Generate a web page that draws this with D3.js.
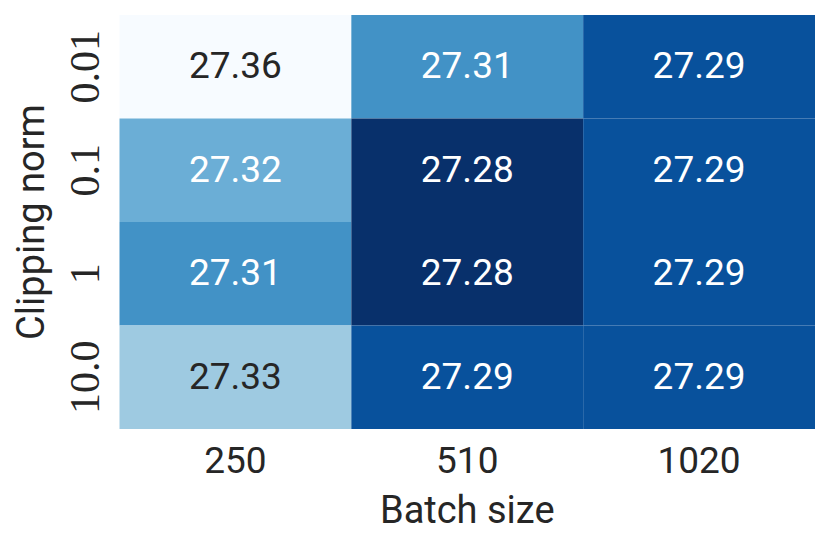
<!DOCTYPE html>
<html lang="en">
<head>
    <meta charset="UTF-8">
    <title>Heatmap</title>
    <script src="https://cdn.jsdelivr.net/npm/d3@7"></script>
    <style>
        body { margin: 0; background: #fff; }
        svg text { font-family: Roboto, "Liberation Sans", sans-serif; fill: #262626; }
    </style>
</head>
<body>
<svg id="chart" width="830" height="549"></svg>
<script>
    var batchSizes = ["250", "510", "1020"];
    var clipNorms = ["0.01", "0.1", "1", "10.0"];
    // rows = clipping norm, columns = batch size
    var values = [
        [27.36, 27.31, 27.29],
        [27.32, 27.28, 27.29],
        [27.31, 27.28, 27.29],
        [27.33, 27.29, 27.29]
    ];
    var bluesStops = ["#f7fbff", "#deebf7", "#c6dbef", "#9ecae1", "#6baed6", "#4292c6", "#2171b5", "#08519c", "#08306b"];

    var mLeft = 119.5, mRight = 815, mTop = 15, mBottom = 429;
    var svg = d3.select("#chart");

    var x = d3.scaleBand().domain(batchSizes).range([mLeft, mRight]);
    var y = d3.scaleBand().domain(clipNorms).range([mTop, mBottom]);

    var flat = [];
    values.forEach(function (row, i) {
        row.forEach(function (v, j) {
            flat.push({row: clipNorms[i], col: batchSizes[j], value: v});
        });
    });

    var vmin = d3.min(flat, function (d) { return d.value; });
    var vmax = d3.max(flat, function (d) { return d.value; });
    // reversed Blues: high values light, low values dark
    var blues = d3.scaleLinear()
        .domain(d3.range(bluesStops.length).map(function (k) { return k / (bluesStops.length - 1); }))
        .range(bluesStops)
        .interpolate(d3.interpolateRgb);
    var color = function (v) { return blues(1 - (v - vmin) / (vmax - vmin)); };

    function relLum(c) {
        var rgb = d3.rgb(c);
        var lin = [rgb.r, rgb.g, rgb.b].map(function (u) {
            u = u / 255;
            return u <= 0.03928 ? u / 12.92 : Math.pow((u + 0.055) / 1.055, 2.4);
        });
        return 0.2126 * lin[0] + 0.7152 * lin[1] + 0.0722 * lin[2];
    }

    svg.selectAll("rect.cell")
        .data(flat)
        .enter().append("rect")
        .attr("class", "cell")
        .attr("x", function (d) { return x(d.col); })
        .attr("y", function (d) { return y(d.row); })
        .attr("width", x.bandwidth())
        .attr("height", y.bandwidth())
        .attr("fill", function (d) { return color(d.value); });

    svg.selectAll("text.val")
        .data(flat)
        .enter().append("text")
        .attr("class", "val")
        .attr("x", function (d) { return x(d.col) + x.bandwidth() / 2; })
        .attr("y", function (d) { return y(d.row) + y.bandwidth() / 2 + 11.5; })
        .attr("text-anchor", "middle")
        .style("font-size", "37px")
        .style("fill", function (d) {
            return relLum(color(d.value)) > 0.408 ? "#262626" : "#ffffff";
        })
        .text(function (d) { return d.value.toFixed(2); });

    // x axis
    var xAxis = svg.append("g")
        .attr("transform", "translate(0," + mBottom + ")")
        .call(d3.axisBottom(x).tickSize(0).tickPadding(0));
    xAxis.select(".domain").remove();
    xAxis.selectAll("text")
        .attr("dy", null)
        .attr("y", 44)
        .style("font-size", "37px")
        .style("font-family", "Roboto, sans-serif")
        .style("fill", "#262626");

    // y axis
    var yAxis = svg.append("g")
        .attr("transform", "translate(" + mLeft + ",0)")
        .call(d3.axisLeft(y).tickSize(0).tickPadding(0));
    yAxis.select(".domain").remove();
    yAxis.selectAll("text")
        .attr("x", null)
        .attr("dy", null)
        .attr("text-anchor", "middle")
        .attr("transform", "translate(-21,0) rotate(-90)")
        .style("font-size", "42px")
        .style("font-family", "'Liberation Serif', serif")
        .style("fill", "#262626");

    svg.append("text")
        .attr("x", (mLeft + mRight) / 2)
        .attr("y", 523)
        .attr("text-anchor", "middle")
        .style("font-size", "38px")
        .text("Batch size");

    svg.append("text")
        .attr("transform", "translate(44," + (mTop + mBottom) / 2 + ") rotate(-90)")
        .attr("text-anchor", "middle")
        .style("font-size", "38px")
        .text("Clipping norm");
</script>
</body>
</html>
